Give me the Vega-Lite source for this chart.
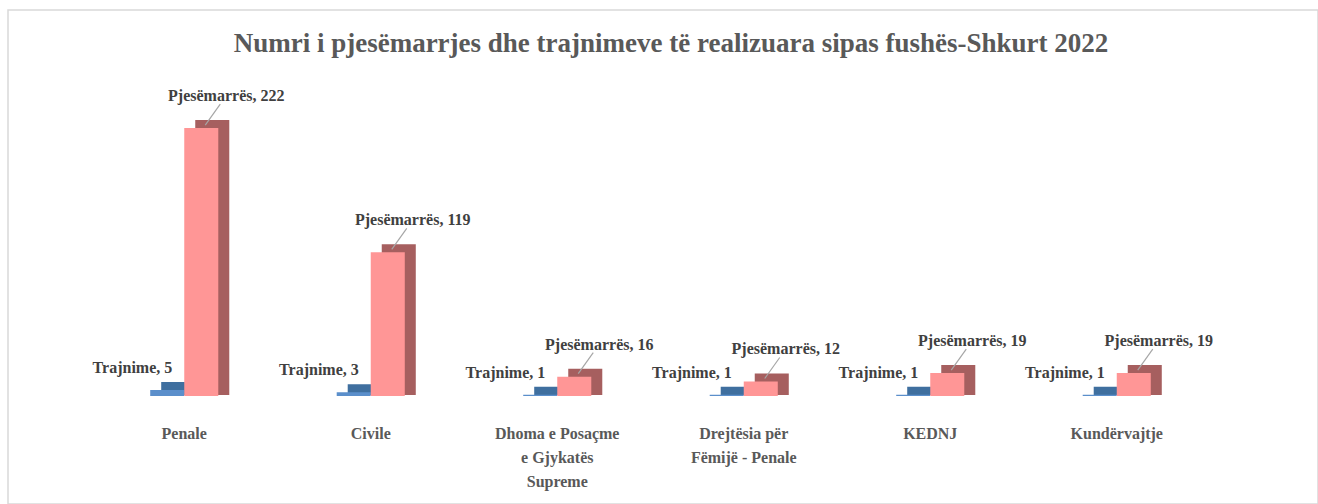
{
  "$schema": "https://vega.github.io/schema/vega-lite/v6.json",
  "width": 1310,
  "height": 494,
  "autosize": {"type": "none"},
  "padding": {"left": 8, "top": 10, "right": 0, "bottom": 0},
  "background": "white",
  "config": {"view": {"stroke": "#d9d9d9", "strokeWidth": 1.5}},
  "title": {
    "text": "Numri i pjesëmarrjes dhe trajnimeve të realizuara sipas fushës-Shkurt 2022",
    "font": "Liberation Serif",
    "fontSize": 27,
    "fontWeight": "bold",
    "color": "#595959",
    "anchor": "middle",
    "offset": -48,
    "dx": 8
  },
  "data": {
    "values": [
      {"category": "Penale", "series": "Trajnime", "value": 5},
      {"category": "Penale", "series": "Pjesëmarrës", "value": 222},
      {"category": "Civile", "series": "Trajnime", "value": 3},
      {"category": "Civile", "series": "Pjesëmarrës", "value": 119},
      {"category": "Dhoma e Posaçme e Gjykatës Supreme", "series": "Trajnime", "value": 1},
      {"category": "Dhoma e Posaçme e Gjykatës Supreme", "series": "Pjesëmarrës", "value": 16},
      {"category": "Drejtësia për Fëmijë - Penale", "series": "Trajnime", "value": 1},
      {"category": "Drejtësia për Fëmijë - Penale", "series": "Pjesëmarrës", "value": 12},
      {"category": "KEDNJ", "series": "Trajnime", "value": 1},
      {"category": "KEDNJ", "series": "Pjesëmarrës", "value": 19},
      {"category": "Kundërvajtje", "series": "Trajnime", "value": 1},
      {"category": "Kundërvajtje", "series": "Pjesëmarrës", "value": 19}
    ]
  },
  "transform": [{"calculate": "datum.series + ', ' + datum.value", "as": "label"}],
  "encoding": {
    "x": {
      "field": "category",
      "type": "nominal",
      "sort": null,
      "scale": {"range": [83, 1202], "paddingInner": 0.635, "paddingOuter": 0.3175},
      "axis": {
        "orient": "bottom",
        "offset": -108,
        "title": null,
        "domain": false,
        "ticks": false,
        "labelAngle": 0,
        "labelPadding": 29,
        "labelFont": "Liberation Serif",
        "labelFontSize": 16,
        "labelFontWeight": "bold",
        "labelColor": "#595959",
        "labelLineHeight": 24,
        "labelLimit": 400,
        "labelOverlap": false,
        "labelExpr": "datum.value == 'Dhoma e Posaçme e Gjykatës Supreme' ? ['Dhoma e Posaçme', 'e Gjykatës', 'Supreme'] : datum.value == 'Drejtësia për Fëmijë - Penale' ? ['Drejtësia për', 'Fëmijë - Penale'] : datum.value"
      }
    },
    "y": {
      "field": "value",
      "type": "quantitative",
      "scale": {"domain": [-89.5, 319.8], "nice": false, "zero": false},
      "axis": null
    }
  },
  "layer": [
    {
      "mark": {"type": "bar", "yOffset": -8, "y2Offset": -1},
      "encoding": {
        "xOffset": {"field": "series", "type": "nominal", "sort": ["Trajnime", "Pjesëmarrës"], "scale": {"range": [11, 79.07], "paddingInner": 0, "paddingOuter": 0}},
        "y2": {"datum": 0},
        "color": {"field": "series", "type": "nominal", "scale": {"domain": ["Trajnime", "Pjesëmarrës"], "range": ["#3f6f9f", "#a65f5f"]}, "legend": null}
      }
    },
    {
      "mark": {"type": "bar"},
      "encoding": {
        "xOffset": {"field": "series", "type": "nominal", "sort": ["Trajnime", "Pjesëmarrës"], "scale": {"paddingInner": 0, "paddingOuter": 0}},
        "y2": {"datum": 0},
        "color": {"field": "series", "type": "nominal", "scale": {"domain": ["Trajnime", "Pjesëmarrës"], "range": ["#5b8fcb", "#ff9696"]}, "legend": null}
      }
    },
    {
      "transform": [{"filter": "datum.series == 'Pjesëmarrës'"}],
      "mark": {"type": "rule", "color": "#a6a6a6", "strokeWidth": 1.2, "xOffset": 21, "x2Offset": 36, "yOffset": -3, "y2Offset": -24},
      "encoding": {
        "x2": {"field": "category"},
        "y2": {"field": "value"}
      }
    },
    {
      "transform": [{"filter": "datum.series == 'Pjesëmarrës'"}],
      "mark": {"type": "text", "dx": 42, "dy": -32, "align": "center", "baseline": "middle", "font": "Liberation Serif", "fontSize": 16, "fontWeight": "bold", "color": "#404040"},
      "encoding": {"text": {"field": "label"}}
    },
    {
      "transform": [{"filter": "datum.series == 'Trajnime'"}],
      "mark": {"type": "text", "dx": -12, "dy": -22, "align": "right", "baseline": "middle", "font": "Liberation Serif", "fontSize": 16, "fontWeight": "bold", "color": "#404040"},
      "encoding": {"text": {"field": "label"}}
    }
  ],
  "resolve": {"scale": {"color": "independent", "xOffset": "independent"}}
}
